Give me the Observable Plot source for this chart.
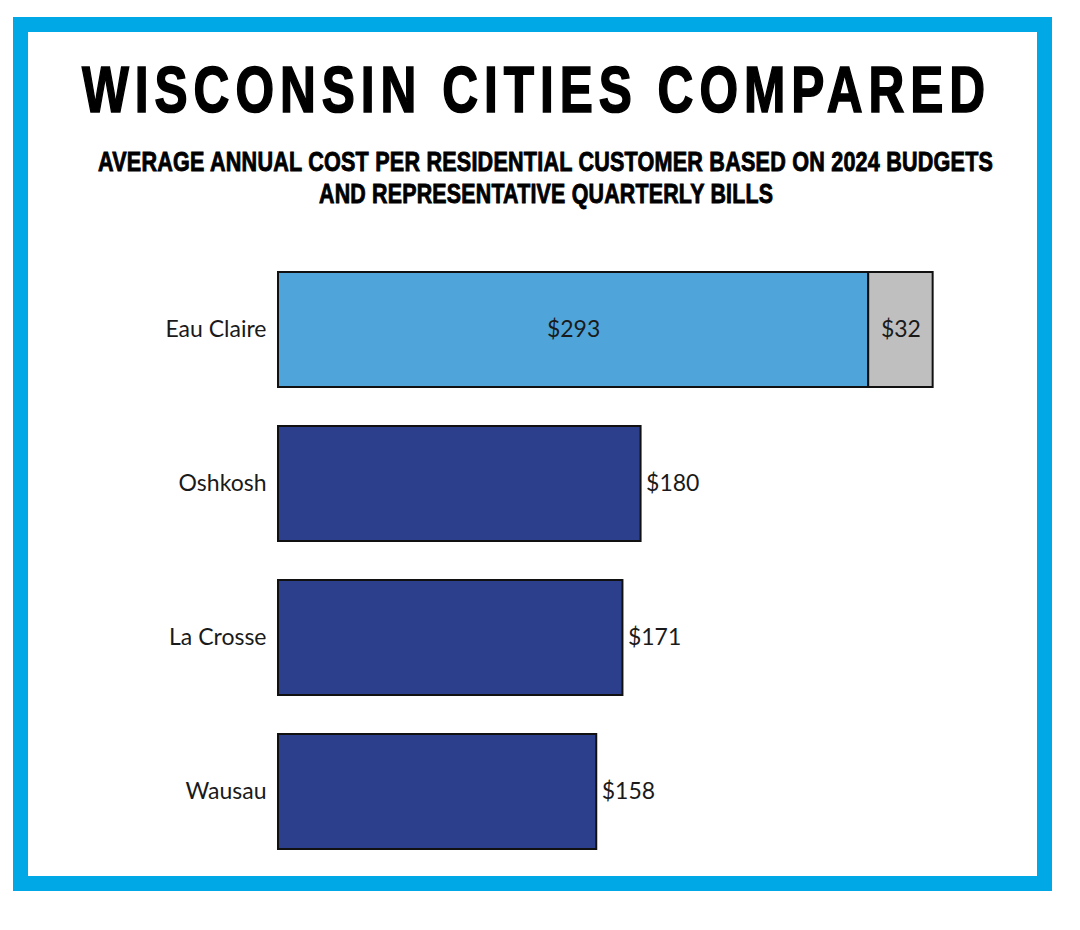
<!DOCTYPE html>
<html>
<head>
<meta charset="utf-8">
<script src="https://cdn.jsdelivr.net/npm/d3@7"></script>
<script src="https://cdn.jsdelivr.net/npm/@observablehq/plot@0.6"></script>
<style>
  html, body { margin: 0; padding: 0; background: #fff; width: 1080px; height: 930px; overflow: hidden; }
  #frame { position: absolute; left: 13px; top: 17px; width: 1009px; height: 844px; border: 15px solid #00A9E6; }
  .tl { position: absolute; display: inline-block; font-family: "Liberation Sans", Arial, sans-serif; font-weight: bold; color: #000; white-space: nowrap; transform-origin: 0 0; }
  #t1 { left: 82px; top: 58px; font-size: 64px; line-height: 64px; letter-spacing: 0.12em; -webkit-text-stroke: 1.6px #000; }
  #t2a { left: 98px; top: 146px; font-size: 28px; line-height: 32px; letter-spacing: 0.01em; -webkit-text-stroke: 0.9px #000; }
  #t2b { left: 319px; top: 178px; font-size: 28px; line-height: 32px; letter-spacing: 0.01em; -webkit-text-stroke: 0.9px #000; }
  #chart { position: absolute; left: 0; top: 0; }
</style>
</head>
<body>
<div id="frame"></div>
<span class="tl" id="t1" data-w="903">WISCONSIN CITIES COMPARED</span>
<span class="tl" id="t2a" data-w="895">AVERAGE ANNUAL COST PER RESIDENTIAL CUSTOMER BASED ON 2024 BUDGETS</span>
<span class="tl" id="t2b" data-w="454">AND REPRESENTATIVE QUARTERLY BILLS</span>
<div id="chart"></div>
<script>
// Data
const segCity  = ["Eau Claire", "Eau Claire", "Oshkosh", "La Crosse", "Wausau"];
const segValue = [293, 32, 180, 171, 158];
const segKind  = ["eauclaire", "extra", "other", "other", "other"];
const cityOrder = ["Eau Claire", "Oshkosh", "La Crosse", "Wausau"];

// condense title lines to their widths in the reference
document.querySelectorAll(".tl").forEach(el => {
  const ls = parseFloat(getComputedStyle(el).letterSpacing) || 0;
  const w = el.offsetWidth - ls;
  el.style.transform = `scaleX(${(+el.dataset.w) / w})`;
});

// build table with cumulative starts
const starts = {};
const rows = segCity.map((c, i) => {
  const s = starts[c] || 0;
  starts[c] = s + segValue[i];
  return {city: c, value: segValue[i], kind: segKind[i], start: s, end: s + segValue[i]};
});
const inside = rows.filter(d => d.city === "Eau Claire");
const outside = rows.filter(d => d.city !== "Eau Claire");

const chart = Plot.plot({
  width: 1080,
  height: 930,
  marginLeft: 278,
  marginRight: 97,
  marginTop: 233,
  marginBottom: 42,
  style: {background: "transparent", fontFamily: "Lato, sans-serif"},
  x: {domain: [0, 350], axis: null},
  y: {domain: cityOrder, padding: 0.253, label: null},
  color: {domain: ["eauclaire", "extra", "other"], range: ["#4FA4DA", "#BFBFBF", "#2B3F8C"]},
  marks: [
    Plot.barX(rows, {x1: "start", x2: "end", y: "city", fill: "kind", stroke: "#111", strokeWidth: 2}),
    Plot.text(inside, {x: d => (d.start + d.end) / 2, y: "city", text: d => "$" + d.value, fontSize: 23, fill: "#1a1a1a"}),
    Plot.text(outside, {x: "end", y: "city", text: d => "$" + d.value, dx: 5, textAnchor: "start", fontSize: 23, fill: "#1a1a1a"}),
    Plot.axisY({tickSize: 0, tickPadding: 12, fontSize: 23, label: null, color: "#1a1a1a"})
  ]
});
document.getElementById("chart").appendChild(chart);
</script>
</body>
</html>
